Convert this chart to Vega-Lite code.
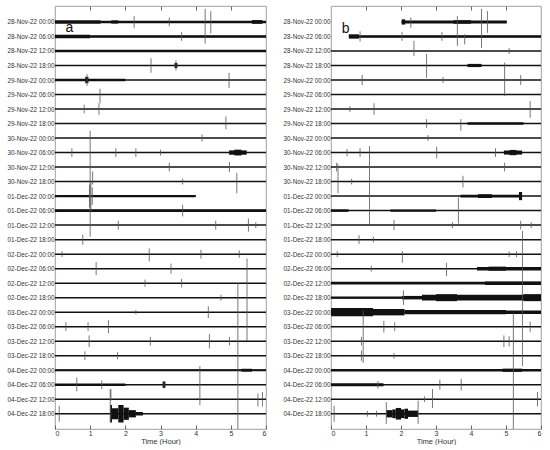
{
"$schema":"https://vega.github.io/schema/vega-lite/v6.json",
"padding":{"left":2,"top":5,"right":2,"bottom":0},
"config":{"view":{"stroke":"#888","strokeWidth":0.8},"font":"Liberation Sans","concat":{"spacing":10}},
"datasets":{
"base":[
{"p":"a","r":0,"x0":0,"x1":6},{"p":"a","r":1,"x0":0,"x1":6},{"p":"a","r":2,"x0":0,"x1":6},{"p":"a","r":3,"x0":0,"x1":6},{"p":"a","r":4,"x0":0,"x1":6},{"p":"a","r":5,"x0":0,"x1":6},{"p":"a","r":6,"x0":0,"x1":6},{"p":"a","r":7,"x0":0,"x1":6},{"p":"a","r":8,"x0":0,"x1":6},{"p":"a","r":9,"x0":0,"x1":6},{"p":"a","r":10,"x0":0,"x1":6},{"p":"a","r":11,"x0":0,"x1":6},{"p":"a","r":12,"x0":0,"x1":4.0},{"p":"a","r":13,"x0":0,"x1":6},{"p":"a","r":14,"x0":0,"x1":6},{"p":"a","r":15,"x0":0,"x1":6},{"p":"a","r":16,"x0":0,"x1":6},{"p":"a","r":17,"x0":0,"x1":6},{"p":"a","r":18,"x0":0,"x1":6},{"p":"a","r":19,"x0":0,"x1":6},{"p":"a","r":20,"x0":0,"x1":6},{"p":"a","r":21,"x0":0,"x1":6},{"p":"a","r":22,"x0":0,"x1":6},{"p":"a","r":23,"x0":0,"x1":6},{"p":"a","r":24,"x0":0,"x1":6},{"p":"a","r":25,"x0":0,"x1":6},{"p":"a","r":26,"x0":0,"x1":6},{"p":"a","r":27,"x0":0,"x1":6},
{"p":"b","r":0,"x0":2.02,"x1":5.02},{"p":"b","r":1,"x0":0.51,"x1":6},{"p":"b","r":2,"x0":0,"x1":6},{"p":"b","r":3,"x0":0,"x1":6},{"p":"b","r":4,"x0":0,"x1":6},{"p":"b","r":5,"x0":0,"x1":6},{"p":"b","r":6,"x0":0,"x1":6},{"p":"b","r":7,"x0":0,"x1":6},{"p":"b","r":8,"x0":0,"x1":6},{"p":"b","r":9,"x0":0,"x1":6},{"p":"b","r":10,"x0":0,"x1":6},{"p":"b","r":11,"x0":0,"x1":6},{"p":"b","r":12,"x0":0,"x1":6},{"p":"b","r":13,"x0":0,"x1":6},{"p":"b","r":14,"x0":0,"x1":6},{"p":"b","r":15,"x0":0,"x1":6},{"p":"b","r":16,"x0":0,"x1":6},{"p":"b","r":17,"x0":0,"x1":6},{"p":"b","r":18,"x0":0,"x1":6},{"p":"b","r":19,"x0":0,"x1":6},{"p":"b","r":20,"x0":0,"x1":6},{"p":"b","r":21,"x0":0,"x1":6},{"p":"b","r":22,"x0":0,"x1":6},{"p":"b","r":23,"x0":0,"x1":6},{"p":"b","r":24,"x0":0,"x1":6},{"p":"b","r":25,"x0":0,"x1":6},{"p":"b","r":26,"x0":0,"x1":6},{"p":"b","r":27,"x0":0,"x1":6}
],
"seg":[
{"p":"a","x0":0,"x1":1.3,"lo":-0.12,"hi":0.12},{"p":"a","x0":1.3,"x1":6,"lo":-0.09,"hi":0.09},{"p":"a","x0":5.6,"x1":5.9,"lo":-0.13,"hi":0.13},{"p":"a","x0":1.6,"x1":1.8,"lo":-0.11,"hi":0.11},
{"p":"a","x0":0,"x1":1.0,"lo":0.88,"hi":1.12},{"p":"a","x0":1.0,"x1":6,"lo":0.91,"hi":1.09},
{"p":"a","x0":0,"x1":6,"lo":1.92,"hi":2.08},
{"p":"a","x0":3.4,"x1":3.48,"lo":2.82,"hi":3.18},
{"p":"a","x0":0,"x1":2.0,"lo":3.91,"hi":4.09},{"p":"a","x0":0.86,"x1":0.95,"lo":3.78,"hi":4.22},
{"p":"a","x0":4.95,"x1":5.45,"lo":8.85,"hi":9.15},{"p":"a","x0":5.1,"x1":5.3,"lo":8.8,"hi":9.2},
{"p":"a","x0":0,"x1":4.0,"lo":11.92,"hi":12.08},
{"p":"a","x0":0,"x1":6,"lo":12.91,"hi":13.09},
{"p":"a","x0":0,"x1":6,"lo":23.93,"hi":24.07},{"p":"a","x0":5.3,"x1":5.6,"lo":23.9,"hi":24.1},
{"p":"a","x0":0,"x1":2,"lo":24.92,"hi":25.08},{"p":"a","x0":3.06,"x1":3.14,"lo":24.78,"hi":25.22},
{"p":"a","x0":1.57,"x1":1.62,"lo":26.4,"hi":27.6},{"p":"a","x0":1.62,"x1":1.8,"lo":26.62,"hi":27.38},{"p":"a","x0":1.8,"x1":1.95,"lo":26.4,"hi":27.6},{"p":"a","x0":1.95,"x1":2.1,"lo":26.58,"hi":27.42},{"p":"a","x0":2.1,"x1":2.3,"lo":26.75,"hi":27.25},{"p":"a","x0":2.3,"x1":2.5,"lo":26.88,"hi":27.12},
{"p":"b","x0":2.02,"x1":5.02,"lo":-0.1,"hi":0.1},{"p":"b","x0":2.02,"x1":2.12,"lo":-0.18,"hi":0.18},{"p":"b","x0":3.5,"x1":4.0,"lo":-0.12,"hi":0.12},
{"p":"b","x0":0.51,"x1":0.8,"lo":0.85,"hi":1.15},{"p":"b","x0":0.8,"x1":6,"lo":0.91,"hi":1.09},
{"p":"b","x0":3.9,"x1":4.3,"lo":2.89,"hi":3.11},
{"p":"b","x0":3.9,"x1":5.5,"lo":6.91,"hi":7.09},
{"p":"b","x0":4.94,"x1":5.46,"lo":8.86,"hi":9.14},{"p":"b","x0":5.1,"x1":5.3,"lo":8.82,"hi":9.18},
{"p":"b","x0":3.7,"x1":5.42,"lo":11.9,"hi":12.1},{"p":"b","x0":5.37,"x1":5.46,"lo":11.72,"hi":12.28},{"p":"b","x0":4.2,"x1":4.6,"lo":11.87,"hi":12.13},
{"p":"b","x0":0,"x1":0.5,"lo":12.91,"hi":13.09},{"p":"b","x0":1.7,"x1":3,"lo":12.92,"hi":13.08},
{"p":"b","x0":4.17,"x1":6,"lo":16.88,"hi":17.12},{"p":"b","x0":4.5,"x1":5.0,"lo":16.86,"hi":17.14},
{"p":"b","x0":0,"x1":6,"lo":17.9,"hi":18.1},{"p":"b","x0":4.4,"x1":6,"lo":17.88,"hi":18.12},
{"p":"b","x0":0,"x1":2.03,"lo":18.92,"hi":19.08},{"p":"b","x0":2.03,"x1":2.6,"lo":18.88,"hi":19.12},{"p":"b","x0":2.6,"x1":6,"lo":18.8,"hi":19.2},{"p":"b","x0":3.0,"x1":3.6,"lo":18.76,"hi":19.24},{"p":"b","x0":5.5,"x1":6,"lo":18.76,"hi":19.24},
{"p":"b","x0":0,"x1":1.2,"lo":19.72,"hi":20.28},{"p":"b","x0":1.2,"x1":2.1,"lo":19.78,"hi":20.22},{"p":"b","x0":2.1,"x1":5.0,"lo":19.85,"hi":20.15},{"p":"b","x0":5.0,"x1":6,"lo":19.88,"hi":20.12},
{"p":"b","x0":0,"x1":6,"lo":23.91,"hi":24.09},{"p":"b","x0":4.9,"x1":5.46,"lo":23.89,"hi":24.11},
{"p":"b","x0":0,"x1":1.5,"lo":24.9,"hi":25.1},
{"p":"b","x0":1.58,"x1":1.75,"lo":26.75,"hi":27.25},{"p":"b","x0":1.75,"x1":1.85,"lo":26.7,"hi":27.3},{"p":"b","x0":1.85,"x1":2.0,"lo":26.6,"hi":27.4},{"p":"b","x0":2.0,"x1":2.1,"lo":26.7,"hi":27.3},{"p":"b","x0":2.1,"x1":2.2,"lo":26.65,"hi":27.35},{"p":"b","x0":2.2,"x1":2.49,"lo":26.78,"hi":27.22}
],
"spk":[
{"p":"a","x":2.25,"lo":-0.4,"hi":0.4},{"p":"a","x":3.25,"lo":-0.3,"hi":0.3},{"p":"a","x":4.27,"lo":-0.9,"hi":1.5},{"p":"a","x":4.43,"lo":-0.75,"hi":0.8},{"p":"a","x":3.6,"lo":0.7,"hi":1.3},{"p":"a","x":2.73,"lo":2.5,"hi":3.5},{"p":"a","x":3.44,"lo":2.65,"hi":3.35},{"p":"a","x":0.91,"lo":3.6,"hi":4.4},{"p":"a","x":4.95,"lo":3.5,"hi":4.55},{"p":"a","x":1.28,"lo":4.6,"hi":5.6},{"p":"a","x":0.83,"lo":5.7,"hi":6.3},{"p":"a","x":1.25,"lo":5.6,"hi":6.4},{"p":"a","x":4.86,"lo":6.5,"hi":7.4},{"p":"a","x":4.18,"lo":7.75,"hi":8.25},{"p":"a","x":0.48,"lo":8.7,"hi":9.3},{"p":"a","x":1.73,"lo":8.7,"hi":9.3},{"p":"a","x":2.3,"lo":8.7,"hi":9.3},{"p":"a","x":3.0,"lo":8.8,"hi":9.2},
{"p":"a","x":1.0,"lo":7.5,"hi":14.8},{"p":"a","x":0.98,"lo":11.2,"hi":12.8},{"p":"a","x":1.02,"lo":11.0,"hi":13.0},{"p":"a","x":1.06,"lo":11.4,"hi":12.6},{"p":"a","x":1.07,"lo":10.3,"hi":11.2},
{"p":"a","x":3.25,"lo":9.7,"hi":10.3},{"p":"a","x":4.96,"lo":9.65,"hi":10.35},{"p":"a","x":3.63,"lo":10.8,"hi":11.2},{"p":"a","x":5.17,"lo":10.4,"hi":11.8},{"p":"a","x":3.63,"lo":12.6,"hi":13.4},{"p":"a","x":1.8,"lo":13.7,"hi":14.3},{"p":"a","x":4.57,"lo":13.7,"hi":14.3},{"p":"a","x":5.5,"lo":13.55,"hi":14.45},{"p":"a","x":5.71,"lo":13.8,"hi":14.2},{"p":"a","x":0.79,"lo":14.65,"hi":15.35},{"p":"a","x":2.68,"lo":15.6,"hi":16.5},{"p":"a","x":4.15,"lo":15.7,"hi":16.3},{"p":"a","x":5.24,"lo":15.75,"hi":16.25},{"p":"a","x":0.2,"lo":15.8,"hi":16.2},{"p":"a","x":1.17,"lo":16.55,"hi":17.45},{"p":"a","x":3.3,"lo":16.65,"hi":17.35},{"p":"a","x":5.46,"lo":16.3,"hi":22.0},{"p":"a","x":2.56,"lo":17.75,"hi":18.25},{"p":"a","x":3.6,"lo":17.7,"hi":18.3},{"p":"a","x":4.72,"lo":18.8,"hi":19.2},{"p":"a","x":5.2,"lo":18.0,"hi":28.05},{"p":"a","x":4.36,"lo":19.6,"hi":20.4},{"p":"a","x":2.3,"lo":19.85,"hi":20.15},{"p":"a","x":0.31,"lo":20.7,"hi":21.3},{"p":"a","x":0.94,"lo":20.7,"hi":21.3},{"p":"a","x":1.52,"lo":20.55,"hi":21.45},{"p":"a","x":0.97,"lo":21.6,"hi":22.4},{"p":"a","x":2.71,"lo":21.7,"hi":22.3},{"p":"a","x":4.39,"lo":21.5,"hi":22.5},{"p":"a","x":4.96,"lo":21.7,"hi":22.3},{"p":"a","x":0.85,"lo":22.7,"hi":23.3},{"p":"a","x":1.78,"lo":22.75,"hi":23.25},{"p":"a","x":4.12,"lo":23.7,"hi":26.4},{"p":"a","x":0.62,"lo":24.5,"hi":25.45},{"p":"a","x":1.33,"lo":24.7,"hi":25.3},{"p":"a","x":1.59,"lo":25.3,"hi":26.1},{"p":"a","x":3.1,"lo":24.75,"hi":25.25},{"p":"a","x":5.77,"lo":25.6,"hi":26.5},{"p":"a","x":5.9,"lo":25.5,"hi":26.5},{"p":"a","x":0.12,"lo":26.45,"hi":27.55},{"p":"a","x":1.57,"lo":25.3,"hi":27.6},
{"p":"b","x":2.28,"lo":-0.3,"hi":0.4},{"p":"b","x":3.61,"lo":-0.4,"hi":1.65},{"p":"b","x":3.82,"lo":0.85,"hi":1.55},{"p":"b","x":4.3,"lo":-0.9,"hi":1.8},{"p":"b","x":4.47,"lo":-0.75,"hi":0.75},{"p":"b","x":0.83,"lo":0.65,"hi":1.35},{"p":"b","x":2.03,"lo":0.7,"hi":1.3},{"p":"b","x":3.17,"lo":0.7,"hi":1.3},{"p":"b","x":2.37,"lo":1.3,"hi":2.35},{"p":"b","x":5.09,"lo":1.8,"hi":2.2},{"p":"b","x":2.73,"lo":2.2,"hi":3.85},{"p":"b","x":4.96,"lo":2.8,"hi":5.1},{"p":"b","x":0.89,"lo":3.65,"hi":4.35},{"p":"b","x":3.2,"lo":3.8,"hi":4.2},{"p":"b","x":5.42,"lo":3.65,"hi":4.35},{"p":"b","x":0.54,"lo":5.8,"hi":6.2},{"p":"b","x":1.23,"lo":5.6,"hi":6.4},{"p":"b","x":5.69,"lo":5.45,"hi":6.6},{"p":"b","x":2.73,"lo":6.7,"hi":7.3},{"p":"b","x":3.71,"lo":6.7,"hi":7.5},{"p":"b","x":2.77,"lo":7.8,"hi":8.2},{"p":"b","x":0.46,"lo":8.75,"hi":9.25},{"p":"b","x":0.83,"lo":8.7,"hi":9.3},{"p":"b","x":3.02,"lo":8.6,"hi":9.4},{"p":"b","x":4.7,"lo":8.7,"hi":9.3},{"p":"b","x":1.1,"lo":8.55,"hi":14.07},{"p":"b","x":0.2,"lo":9.8,"hi":11.8},{"p":"b","x":4.96,"lo":9.7,"hi":10.3},{"p":"b","x":0.16,"lo":9.7,"hi":10.3},{"p":"b","x":0.59,"lo":10.8,"hi":11.2},{"p":"b","x":3.77,"lo":10.6,"hi":11.4},{"p":"b","x":3.64,"lo":12.1,"hi":13.9},{"p":"b","x":1.8,"lo":13.65,"hi":14.35},{"p":"b","x":3.47,"lo":13.8,"hi":14.2},{"p":"b","x":5.42,"lo":13.7,"hi":14.3},{"p":"b","x":5.72,"lo":13.8,"hi":14.2},{"p":"b","x":0.8,"lo":14.7,"hi":15.3},{"p":"b","x":1.21,"lo":14.8,"hi":15.2},{"p":"b","x":5.47,"lo":14.4,"hi":23.7},{"p":"b","x":0.18,"lo":15.8,"hi":16.2},{"p":"b","x":2.04,"lo":15.8,"hi":16.6},{"p":"b","x":5.09,"lo":15.8,"hi":16.2},{"p":"b","x":5.3,"lo":15.8,"hi":16.2},{"p":"b","x":1.15,"lo":16.8,"hi":17.2},{"p":"b","x":3.3,"lo":16.6,"hi":17.5},{"p":"b","x":2.07,"lo":18.5,"hi":19.5},{"p":"b","x":5.21,"lo":20.05,"hi":28.05},{"p":"b","x":0.92,"lo":19.9,"hi":23.5},{"p":"b","x":1.51,"lo":20.6,"hi":21.4},{"p":"b","x":1.82,"lo":20.7,"hi":21.3},{"p":"b","x":5.69,"lo":20.65,"hi":21.35},{"p":"b","x":0.87,"lo":21.7,"hi":22.3},{"p":"b","x":4.94,"lo":21.6,"hi":22.4},{"p":"b","x":5.09,"lo":21.65,"hi":22.35},{"p":"b","x":0.87,"lo":22.65,"hi":23.35},{"p":"b","x":1.8,"lo":22.8,"hi":23.2},{"p":"b","x":1.34,"lo":24.75,"hi":25.25},{"p":"b","x":3.11,"lo":24.65,"hi":25.35},{"p":"b","x":3.72,"lo":24.6,"hi":25.4},{"p":"b","x":2.9,"lo":25.3,"hi":26.6},{"p":"b","x":2.67,"lo":25.8,"hi":26.2},{"p":"b","x":5.9,"lo":25.5,"hi":26.5},{"p":"b","x":0.09,"lo":26.45,"hi":27.55},{"p":"b","x":1.04,"lo":26.8,"hi":27.2},{"p":"b","x":1.3,"lo":26.8,"hi":27.2},{"p":"b","x":1.58,"lo":26.2,"hi":27.7},{"p":"b","x":2.49,"lo":26.1,"hi":27.7}
],
"lab":[{"p":"a","t":"a","x":0.41,"y":0.68},{"p":"b","t":"b","x":0.42,"y":0.74}]
},
"hconcat":[
{"width":211,"height":423,
 "resolve":{"axis":{"x":"independent","y":"independent"}},
 "layer":[
  {"data":{"name":"base"},"transform":[{"filter":"datum.p=='a'"}],"mark":{"type":"rule","strokeWidth":1.5,"color":"#111"},
   "encoding":{"x":{"field":"x0","type":"quantitative","scale":{"domain":[0,6],"nice":false,"zero":false},"axis":{"orient":"bottom","values":[0,1,2,3,4,5,6],"title":"Time (Hour)","labelFontSize":7,"titleFontSize":7.5,"titleFontWeight":"normal","tickSize":-4,"labelPadding":4,"domain":false,"grid":false,"titlePadding":1,"labelColor":"#333","titleColor":"#333","tickColor":"#666"}},
    "x2":{"field":"x1"},
    "y":{"field":"r","type":"quantitative","scale":{"domain":[-1.1,28.05],"reverse":true,"nice":false,"zero":false},"axis":{"orient":"left","values":[0,1,2,3,4,5,6,7,8,9,10,11,12,13,14,15,16,17,18,19,20,21,22,23,24,25,26,27],"labelExpr":"['28-Nov-22 00:00','28-Nov-22 06:00','28-Nov-22 12:00','28-Nov-22 18:00','29-Nov-22 00:00','29-Nov-22 06:00','29-Nov-22 12:00','29-Nov-22 18:00','30-Nov-22 00:00','30-Nov-22 06:00','30-Nov-22 12:00','30-Nov-22 18:00','01-Dec-22 00:00','01-Dec-22 06:00','01-Dec-22 12:00','01-Dec-22 18:00','02-Dec-22 00:00','02-Dec-22 06:00','02-Dec-22 12:00','02-Dec-22 18:00','03-Dec-22 00:00','03-Dec-22 06:00','03-Dec-22 12:00','03-Dec-22 18:00','04-Dec-22 00:00','04-Dec-22 06:00','04-Dec-22 12:00','04-Dec-22 18:00'][round(datum.value)]","labelOverlap":false,"labelBound":false,"labelFontSize":6.3,"ticks":false,"domain":false,"grid":false,"title":null,"labelPadding":1,"minExtent":52,"maxExtent":52,"labelColor":"#333"}}}},
  {"data":{"name":"seg"},"transform":[{"filter":"datum.p=='a'"}],"mark":{"type":"rect","color":"#111"},
   "encoding":{"x":{"field":"x0","type":"quantitative","axis":{"orient":"top","values":[1,2,3,4,5],"labels":false,"title":null,"tickSize":-4,"domain":false,"grid":false,"tickColor":"#666","minExtent":0,"maxExtent":0}},"x2":{"field":"x1"},"y":{"field":"lo","type":"quantitative","axis":null},"y2":{"field":"hi"}}},
  {"data":{"name":"spk"},"transform":[{"filter":"datum.p=='a'"}],"mark":{"type":"rule","color":"#555","strokeWidth":0.8},
   "encoding":{"x":{"field":"x","type":"quantitative","axis":null},"y":{"field":"lo","type":"quantitative","axis":null},"y2":{"field":"hi"}}},
  {"data":{"name":"lab"},"transform":[{"filter":"datum.p=='a'"}],"mark":{"type":"text","fontSize":14,"align":"center","baseline":"alphabetic","color":"#111"},
   "encoding":{"x":{"field":"x","type":"quantitative","axis":null},"y":{"field":"y","type":"quantitative","axis":null},"text":{"field":"t"}}}
 ]},
{"width":210,"height":423,
 "resolve":{"axis":{"x":"independent","y":"independent"}},
 "layer":[
  {"data":{"name":"base"},"transform":[{"filter":"datum.p=='b'"}],"mark":{"type":"rule","strokeWidth":1.5,"color":"#111"},
   "encoding":{"x":{"field":"x0","type":"quantitative","scale":{"domain":[0,6],"nice":false,"zero":false},"axis":{"orient":"bottom","values":[0,1,2,3,4,5,6],"title":"Time (Hour)","labelFontSize":7,"titleFontSize":7.5,"titleFontWeight":"normal","tickSize":-4,"labelPadding":4,"domain":false,"grid":false,"titlePadding":1,"labelColor":"#333","titleColor":"#333","tickColor":"#666"}},
    "x2":{"field":"x1"},
    "y":{"field":"r","type":"quantitative","scale":{"domain":[-1.1,28.05],"reverse":true,"nice":false,"zero":false},"axis":{"orient":"left","values":[0,1,2,3,4,5,6,7,8,9,10,11,12,13,14,15,16,17,18,19,20,21,22,23,24,25,26,27],"labelExpr":"['28-Nov-22 00:00','28-Nov-22 06:00','28-Nov-22 12:00','28-Nov-22 18:00','29-Nov-22 00:00','29-Nov-22 06:00','29-Nov-22 12:00','29-Nov-22 18:00','30-Nov-22 00:00','30-Nov-22 06:00','30-Nov-22 12:00','30-Nov-22 18:00','01-Dec-22 00:00','01-Dec-22 06:00','01-Dec-22 12:00','01-Dec-22 18:00','02-Dec-22 00:00','02-Dec-22 06:00','02-Dec-22 12:00','02-Dec-22 18:00','03-Dec-22 00:00','03-Dec-22 06:00','03-Dec-22 12:00','03-Dec-22 18:00','04-Dec-22 00:00','04-Dec-22 06:00','04-Dec-22 12:00','04-Dec-22 18:00'][round(datum.value)]","labelOverlap":false,"labelBound":false,"labelFontSize":6.3,"ticks":false,"domain":false,"grid":false,"title":null,"labelPadding":1,"minExtent":52,"maxExtent":52,"labelColor":"#333"}}}},
  {"data":{"name":"seg"},"transform":[{"filter":"datum.p=='b'"}],"mark":{"type":"rect","color":"#111"},
   "encoding":{"x":{"field":"x0","type":"quantitative","axis":{"orient":"top","values":[1,2,3,4,5],"labels":false,"title":null,"tickSize":-4,"domain":false,"grid":false,"tickColor":"#666","minExtent":0,"maxExtent":0}},"x2":{"field":"x1"},"y":{"field":"lo","type":"quantitative","axis":null},"y2":{"field":"hi"}}},
  {"data":{"name":"spk"},"transform":[{"filter":"datum.p=='b'"}],"mark":{"type":"rule","color":"#555","strokeWidth":0.8},
   "encoding":{"x":{"field":"x","type":"quantitative","axis":null},"y":{"field":"lo","type":"quantitative","axis":null},"y2":{"field":"hi"}}},
  {"data":{"name":"lab"},"transform":[{"filter":"datum.p=='b'"}],"mark":{"type":"text","fontSize":14,"align":"center","baseline":"alphabetic","color":"#111"},
   "encoding":{"x":{"field":"x","type":"quantitative","axis":null},"y":{"field":"y","type":"quantitative","axis":null},"text":{"field":"t"}}}
 ]}
]
}
